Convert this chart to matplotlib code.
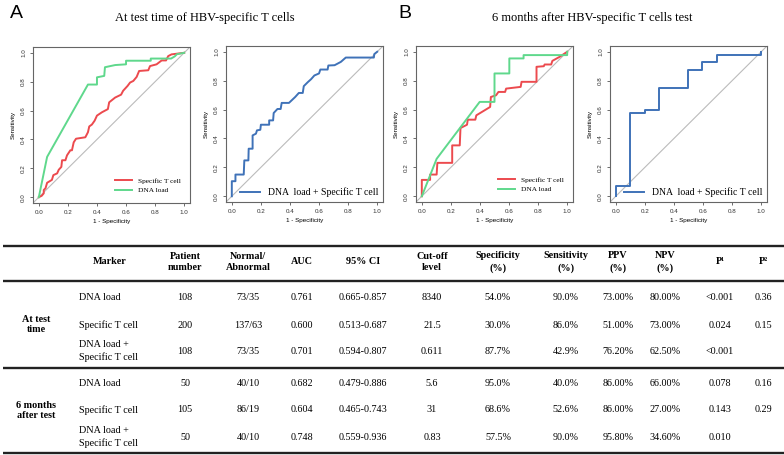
import matplotlib
matplotlib.use("Agg")
import matplotlib.pyplot as plt

# ---------------- ROC data (1 - specificity, sensitivity) ----------------
a_tcell_x = [0, 0.02, 0.034, 0.034, 0.046, 0.057, 0.09, 0.10, 0.126, 0.137, 0.155, 0.16, 0.183, 0.194,
             0.217, 0.228, 0.24, 0.256, 0.32, 0.338, 0.347, 0.365, 0.384, 0.40, 0.434, 0.475, 0.484,
             0.525, 0.566, 0.58, 0.61, 0.628, 0.65, 0.673, 0.69, 0.753, 0.765, 0.81, 0.845, 0.875,
             0.89, 0.913, 1.0]
a_tcell_y = [0, 0.01, 0.027, 0.05, 0.062, 0.10, 0.12, 0.153, 0.165, 0.19, 0.21, 0.256, 0.256, 0.29,
             0.325, 0.325, 0.38, 0.405, 0.415, 0.45, 0.49, 0.503, 0.53, 0.565, 0.588, 0.61, 0.657,
             0.69, 0.71, 0.737, 0.77, 0.794, 0.805, 0.833, 0.874, 0.879, 0.908, 0.92, 0.947, 0.947,
             0.977, 0.989, 1.0]
a_dna_x = [0, 0.057, 0.338, 0.40, 0.40, 0.45, 0.455, 0.525, 0.60, 0.60, 0.77, 0.77, 0.91, 0.935, 0.95, 1.0]
a_dna_y = [0, 0.279, 0.78, 0.78, 0.83, 0.84, 0.90, 0.915, 0.92, 0.945, 0.945, 0.96, 0.96, 0.975, 0.99, 1.0]
a_comb_x = [0, 0, 0.025, 0.025, 0.082, 0.086, 0.114, 0.116, 0.143, 0.143, 0.166, 0.173, 0.196, 0.2,
            0.257, 0.257, 0.284, 0.288, 0.314, 0.336, 0.343, 0.393, 0.436, 0.461, 0.488, 0.495, 0.523,
            0.545, 0.568, 0.6, 0.609, 0.659, 0.664, 0.707, 0.75, 0.784, 0.977, 0.98, 1.0]
a_comb_y = [0, 0.104, 0.104, 0.15, 0.15, 0.248, 0.248, 0.329, 0.329, 0.421, 0.433, 0.456, 0.46, 0.495,
            0.495, 0.525, 0.525, 0.576, 0.604, 0.604, 0.646, 0.646, 0.687, 0.715, 0.715, 0.762, 0.79,
            0.81, 0.836, 0.85, 0.877, 0.877, 0.905, 0.907, 0.93, 0.96, 0.96, 0.984, 1.0]

b_tcell_x = [0, 0, 0.057, 0.057, 0.102, 0.107, 0.209, 0.209, 0.261, 0.266, 0.311, 0.316, 0.368, 0.375,
             0.47, 0.475, 0.511, 0.527, 0.573, 0.58, 0.68, 0.686, 0.789, 0.789, 0.839, 0.845, 0.89,
             0.898, 0.948, 1.0]
b_tcell_y = [0, 0.113, 0.113, 0.15, 0.15, 0.231, 0.231, 0.352, 0.352, 0.472, 0.495, 0.53, 0.53, 0.56,
             0.618, 0.687, 0.699, 0.722, 0.722, 0.745, 0.757, 0.792, 0.792, 0.896, 0.90, 0.912, 0.912,
             0.937, 0.965, 1.0]
b_dna_x = [0, 0.102, 0.398, 0.5, 0.5, 0.602, 0.602, 0.70, 0.70, 1.0, 1.0]
b_dna_y = [0, 0.259, 0.653, 0.653, 0.85, 0.85, 0.954, 0.954, 0.977, 0.977, 1.0]
b_comb_x = [0, 0, 0.098, 0.098, 0.2, 0.2, 0.3, 0.3, 0.498, 0.498, 0.596, 0.596, 0.696, 0.696, 1.0, 1.0]
b_comb_y = [0, 0.074, 0.074, 0.576, 0.576, 0.60, 0.60, 0.752, 0.752, 0.877, 0.877, 0.926, 0.926, 0.977, 0.977, 1.0]

ticks = [0.0, 0.2, 0.4, 0.6, 0.8, 1.0]
tick_labels = ["0.0", "0.2", "0.4", "0.6", "0.8", "1.0"]

titles = ["At test time of HBV-specific T cells", "6 months after HBV-specific T cells test"]
panel_letters = ["A", "B"]

# ---------------- Table data ----------------
col_headers = ["Marker", "Patient\nnumber", "Normal/\nAbnormal", "AUC", "95% CI", "Cut-off\nlevel",
               "Specificity\n(%)", "Sensitivity\n(%)", "PPV\n(%)", "NPV\n(%)", "P¹", "P²"]
groups = ["At test\ntime", "6 months\nafter test"]
markers = ["DNA load", "Specific T cell", "DNA load +\nSpecific T cell",
           "DNA load", "Specific T cell", "DNA load +\nSpecific T cell"]
patients = ["108", "200", "108", "50", "105", "50"]
norm_abn = ["73/35", "137/63", "73/35", "40/10", "86/19", "40/10"]
auc = ["0.761", "0.600", "0.701", "0.682", "0.604", "0.748"]
ci = ["0.665-0.857", "0.513-0.687", "0.594-0.807", "0.479-0.886", "0.465-0.743", "0.559-0.936"]
cutoff = ["8340", "21.5", "0.611", "5.6", "31", "0.83"]
spec = ["54.0%", "30.0%", "87.7%", "95.0%", "68.6%", "57.5%"]
sens = ["90.0%", "86.0%", "42.9%", "40.0%", "52.6%", "90.0%"]
ppv = ["73.00%", "51.00%", "76.20%", "86.00%", "86.00%", "95.80%"]
npv = ["80.00%", "73.00%", "62.50%", "66.00%", "27.00%", "34.60%"]
p1 = ["<0.001", "0.024", "<0.001", "0.078", "0.143", "0.010"]
p2 = ["0.36", "0.15", "", "0.16", "0.29", ""]

RED = "#EC4A4E"
GREEN = "#5FD88C"
BLUE = "#3F72B8"
W, H = 784, 455

fig = plt.figure(figsize=(W / 100, H / 100), dpi=100)
fig.patch.set_facecolor("white")

SERIF = ["Liberation Serif", "DejaVu Serif"]
SANS = ["Liberation Sans", "DejaVu Sans"]


def px_axes(l, r, t, b):
    return fig.add_axes([l / W, 1 - b / H, (r - l) / W, (b - t) / H])


def style_roc(ax):
    ax.set_xlim(-0.04, 1.04)
    ax.set_ylim(-0.04, 1.04)
    ax.axline((0, 0), (1, 1), color="#BBBBBB", lw=0.8, zorder=1)
    ax.set_xticks(ticks)
    ax.set_xticklabels(tick_labels, fontsize=4.5, family=SANS)
    ax.set_yticks(ticks)
    ax.set_yticklabels(tick_labels, fontsize=4.5, family=SANS, rotation=90, va="center")
    ax.tick_params(length=2.5, width=0.5, pad=2.5, colors="#333333")
    for s in ax.spines.values():
        s.set_color("#666666")
        s.set_linewidth(0.8)
    ax.set_xlabel("1 - Specificity", fontsize=4.5, family=SANS, labelpad=3)
    ax.set_ylabel("Sensitivity", fontsize=4.5, family=SANS, labelpad=4)


boxes = [(33, 190, 47, 203), (226, 383, 46, 202), (416, 573, 46, 202), (610, 767, 46, 202)]
pairs = [
    [(a_tcell_x, a_tcell_y, RED, "Specific T cell"), (a_dna_x, a_dna_y, GREEN, "DNA load")],
    [(a_comb_x, a_comb_y, BLUE, "DNA  load + Specific T cell")],
    [(b_tcell_x, b_tcell_y, RED, "Specific T cell"), (b_dna_x, b_dna_y, GREEN, "DNA load")],
    [(b_comb_x, b_comb_y, BLUE, "DNA  load + Specific T cell")],
]
for i, (box, series) in enumerate(zip(boxes, pairs)):
    ax = px_axes(*box)
    style_roc(ax)
    for xs, ys, c, lab in series:
        ax.plot(xs, ys, color=c, lw=1.4, label=lab, zorder=3)
    if len(series) == 2:
        ax.legend(loc="lower right", frameon=False, prop={"family": SERIF, "size": 5.3},
                  handlelength=2.2, borderaxespad=0.9, labelspacing=0.5)
    else:
        ax.legend(loc="lower right", frameon=False, prop={"family": SERIF, "size": 7},
                  handlelength=2.0, borderaxespad=0.1)

# titles and panel letters
fig.text(205 / W, 1 - 18 / H, titles[0], fontsize=9, family=SERIF, ha="center", va="center")
fig.text(592 / W, 1 - 18 / H, titles[1], fontsize=9, family=SERIF, ha="center", va="center")
fig.text(10 / W, 1 - 14 / H, panel_letters[0], fontsize=14, family=SANS, ha="left", va="center")
fig.text(398 / W, 1 - 14 / H, panel_letters[1], fontsize=14, family=SANS, ha="left", va="center")

# ---------------- Table ----------------
tab = fig.add_axes([0, 0, 1, 1])
tab.set_xlim(0, W)
tab.set_ylim(H, 0)
tab.axis("off")

for yy, lw in [(246, 1.7), (281, 1.7), (368, 1.7), (453, 1.7)]:
    tab.plot([3, W], [yy, yy], color="#222222", lw=lw, solid_capstyle="butt")

col_x = [None, 185, 248, 302, 363, 432, 498, 566, 618, 665, 720, 763]
marker_x = 79
header_y = 262
row_y = [298, 325, 351, 384, 410, 437]
FS = 7.3

tab.text(marker_x + 31, header_y, col_headers[0], ha="center", va="center", fontsize=FS,
         family=SERIF, weight="bold")
for j in range(1, len(col_headers)):
    tab.text(col_x[j], header_y, col_headers[j], ha="center", va="center", fontsize=FS,
             family=SERIF, weight="bold", linespacing=1.35)

tab.text(36, (row_y[0] + row_y[2]) / 2, groups[0], ha="center", va="center", fontsize=FS,
         family=SERIF, weight="bold", linespacing=1.2)
tab.text(36, (row_y[3] + row_y[5]) / 2, groups[1], ha="center", va="center", fontsize=FS,
         family=SERIF, weight="bold", linespacing=1.2)

cols = [patients, norm_abn, auc, ci, cutoff, spec, sens, ppv, npv, p1, p2]
for r in range(6):
    tab.text(marker_x, row_y[r], markers[r], ha="left", va="center", fontsize=FS, family=SERIF,
             linespacing=1.3)
    for j, col in enumerate(cols, start=1):
        tab.text(col_x[j], row_y[r], col[r], ha="center", va="center", fontsize=FS, family=SERIF)

fig.savefig("out.png", dpi=100, facecolor="white")
